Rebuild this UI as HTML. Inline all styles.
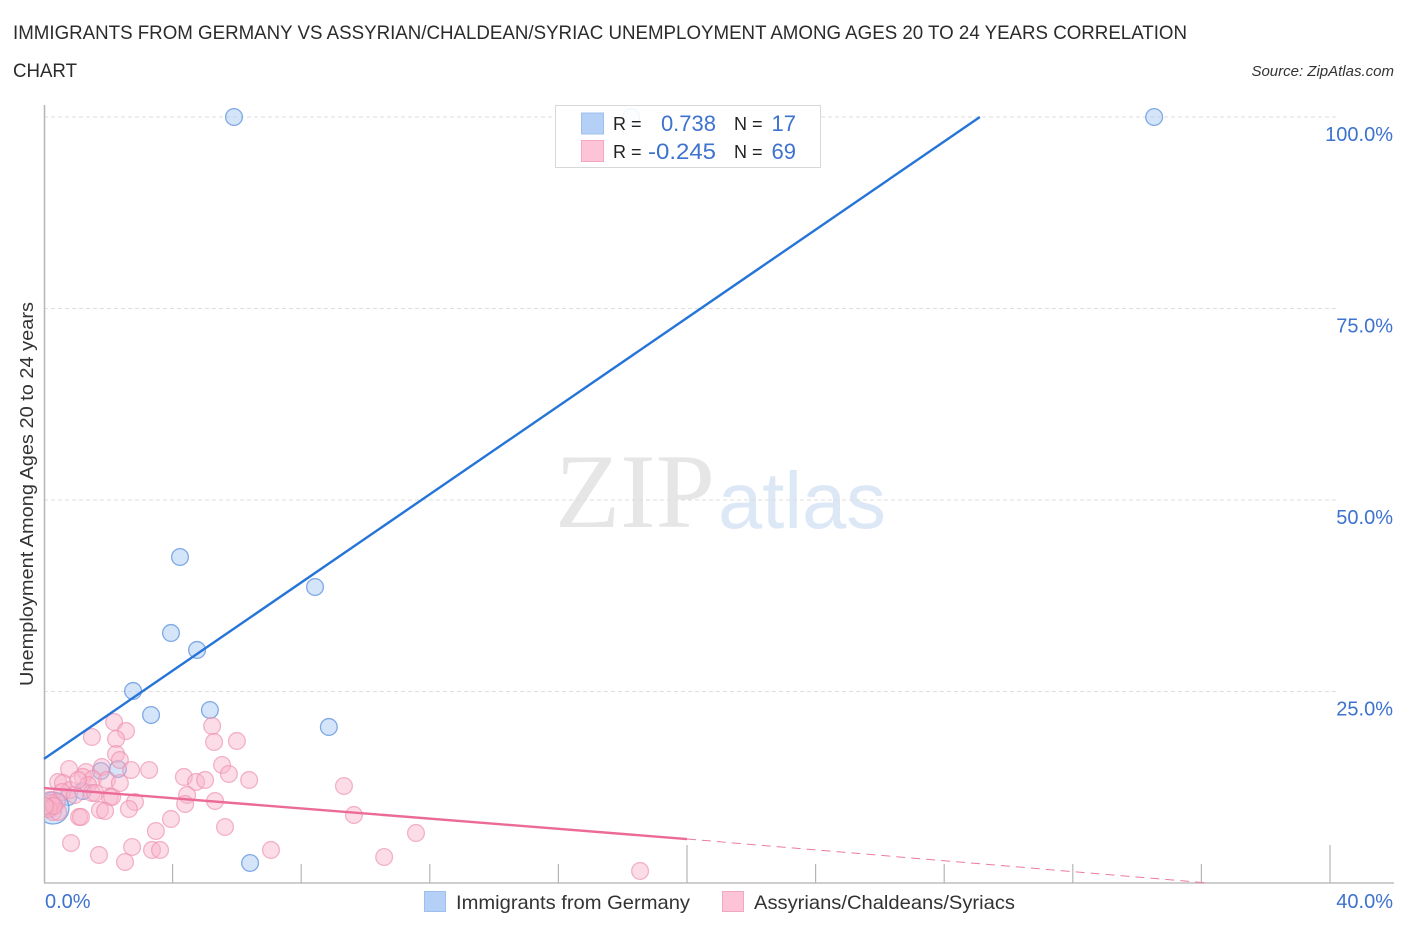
<!DOCTYPE html>
<html>
<head>
<meta charset="utf-8">
<title>Immigrants from Germany vs Assyrian/Chaldean/Syriac Unemployment Correlation Chart</title>
<style>
html,body{margin:0;padding:0;background:#fff;}
svg{display:block;font-family:"Liberation Sans",sans-serif;}
</style>
</head>
<body>
<svg id="chart" xmlns="http://www.w3.org/2000/svg" width="1406" height="930" viewBox="0 0 1406 930">
  <defs>
    <clipPath id="plot-clip"><rect x="45" y="100" width="1350" height="783"/></clipPath>
  </defs>
  <text x="13" y="39" font-size="19" fill="#2b2b2b" textLength="1174" lengthAdjust="spacingAndGlyphs">IMMIGRANTS FROM GERMANY VS ASSYRIAN/CHALDEAN/SYRIAC UNEMPLOYMENT AMONG AGES 20 TO 24 YEARS CORRELATION</text>
  <text x="13" y="77" font-size="19" fill="#2b2b2b" textLength="64" lengthAdjust="spacingAndGlyphs">CHART</text>
  <text x="1394" y="76" font-size="15" font-style="italic" fill="#333" text-anchor="end">Source: ZipAtlas.com</text>
  <g id="watermark">
    <text x="555" y="527" font-family="'Liberation Serif',serif" font-size="106" fill="#e6e6e6" textLength="160" lengthAdjust="spacingAndGlyphs">ZIP</text>
    <text x="718" y="528" font-size="80" fill="#dde8f7" textLength="168" lengthAdjust="spacingAndGlyphs">atlas</text>
  </g>
  <g id="grid"></g>
  <g id="axes"></g>
  <g id="blue-points" clip-path="url(#plot-clip)"></g>
  <g id="pink-points" clip-path="url(#plot-clip)"></g>
  <g id="trends"></g>
  <text transform="translate(33,494) rotate(-90)" font-size="18.5" fill="#333" text-anchor="middle" textLength="384" lengthAdjust="spacingAndGlyphs">Unemployment Among Ages 20 to 24 years</text>
  <g>
    <rect x="555.5" y="105.5" width="265" height="62" fill="#fff" fill-opacity="0.9" stroke="#d8d8d8"/>
    <rect x="581.5" y="113" width="22" height="21" fill="#b5d0f7" stroke="#9cbfee"/>
    <rect x="581.5" y="140.5" width="22" height="21" fill="#fcc4d6" stroke="#f2a8c0"/>
    <text x="613" y="130" font-size="18" fill="#222">R =</text>
    <text x="716" y="131" font-size="22" fill="#3d72cf" text-anchor="end">0.738</text>
    <text x="734" y="130" font-size="18" fill="#222">N =</text>
    <text x="796" y="131" font-size="22" fill="#3d72cf" text-anchor="end">17</text>
    <text x="613" y="158" font-size="18" fill="#222">R =</text>
    <text x="716" y="159" font-size="22" fill="#3d72cf" text-anchor="end" textLength="68" lengthAdjust="spacingAndGlyphs">-0.245</text>
    <text x="734" y="158" font-size="18" fill="#222">N =</text>
    <text x="796" y="159" font-size="22" fill="#3d72cf" text-anchor="end">69</text>
  </g>
  <g>
    <rect x="424.5" y="891.5" width="21" height="20" fill="#b5d0f7" stroke="#9cbfee"/>
    <text x="456" y="909" font-size="19.5" fill="#333" textLength="234" lengthAdjust="spacingAndGlyphs">Immigrants from Germany</text>
    <rect x="722.5" y="891.5" width="21" height="20" fill="#fcc4d6" stroke="#f2a8c0"/>
    <text x="754" y="909" font-size="19.5" fill="#333" textLength="261" lengthAdjust="spacingAndGlyphs">Assyrians/Chaldeans/Syriacs</text>
  </g>
</svg>
<script>
const blueX = [5.91,18.26,34.53,4.23,8.43,3.95,4.76,2.77,3.33,5.16,8.86,1.77,2.30,6.41,1.21,0.75,0.28];
const blueY = [100,100,100,42.56,38.64,32.64,30.42,25.07,21.93,22.58,20.37,14.62,14.88,2.61,12.01,11.23,9.79];
const blueSize = [1,1,1,1,1,1,1,1,1,1,1,1,1,1,1,1,1.9];
const pinkX = [2.18,2.55,1.49,2.24,2.24,2.36,1.80,2.71,3.27,0.78,1.31,0.44,0.59,1.21,1.52,1.96,1.37,0.81,0.56,0.96,1.49,1.59,2.05,2.12,2.83,2.64,1.74,1.90,1.09,1.15,0.19,0.28,0.28,0.12,0.40,0.44,0.84,1.71,2.74,2.52,3.36,3.61,3.48,3.95,4.35,4.73,5.01,4.45,4.39,5.32,5.23,5.29,6.00,5.54,5.75,6.38,5.63,9.33,9.64,11.57,10.58,7.06,18.54,1.06,0.22,2.36,0.15,0.31,0.03];
const pinkY = [21.02,19.84,19.06,18.80,16.84,16.06,15.14,14.75,14.75,14.88,14.49,13.19,13.05,13.84,13.58,13.45,12.79,12.14,11.88,11.49,11.75,11.75,11.23,11.23,10.57,9.66,9.53,9.40,8.62,8.62,10.84,10.18,9.27,9.92,10.57,9.27,5.22,3.66,4.70,2.74,4.31,4.31,6.79,8.36,13.84,13.19,13.45,11.49,10.31,10.70,20.50,18.41,18.54,15.40,14.23,13.45,7.31,12.66,8.88,6.53,3.39,4.31,1.57,13.45,10.45,13.05,9.66,10.05,10.05];
const blueTrendX = [0,29.11];
const blueTrendY = [16.2,100];
const pinkTrendX = [0,20];
const pinkTrendY = [12.4,5.74];
const pinkDashX = [20,36.2];
const pinkDashY = [5.74,0];
const yTicks = [25,50,75,100];
const yTickLabels = ["25.0%","50.0%","75.0%","100.0%"];
const xTicks = [4,8,12,16,20,24,28,32,36,40];
const xEndLabels = ["0.0%","40.0%"];

const NS = "http://www.w3.org/2000/svg";
function xScale(v){return 44 + v * 32.15;}
function yScale(v){return 883 - v * 7.66;}
function make(tag, attrs, parent){
  const el = document.createElementNS(NS, tag);
  for (const k in attrs) el.setAttribute(k, attrs[k]);
  parent.appendChild(el);
  return el;
}
const gridG = document.getElementById('grid');
const axesG = document.getElementById('axes');
const blueG = document.getElementById('blue-points');
const pinkG = document.getElementById('pink-points');
const trendG = document.getElementById('trends');

yTicks.forEach(function(t, i){
  const line = make('line', {x1:44, x2:1336, y1:yScale(t), y2:yScale(t), stroke:'#dedede', 'stroke-width':1, 'stroke-dasharray':'4 3'}, gridG);
  
  
  const label = make('text', {x:1393, y:yScale(t) + 24, 'font-size':20, fill:'#3d72cf', 'text-anchor':'end'}, axesG);
  label.textContent = yTickLabels[i];
  
  
});

const yAxis = make('line', {x1:44.5, x2:44.5, y1:105, y2:883, stroke:'#b5b5b5', 'stroke-width':1.5}, axesG);


const xAxis = make('line', {x1:44, x2:1394, y1:883, y2:883, stroke:'#bdbdbd', 'stroke-width':1.5}, axesG);



xTicks.forEach(function(t){
  const top = (t % 20 === 0) ? 845 : 864;
  const tick = make('line', {x1:xScale(t), x2:xScale(t), y1:top, y2:883, stroke:'#b5b5b5', 'stroke-width':1.2}, axesG);
  
  
});

const xStart = make('text', {x:45, y:908, 'font-size':20, fill:'#3d72cf'}, axesG);
xStart.textContent = xEndLabels[0];


const xEnd = make('text', {x:1393, y:908, 'font-size':20, fill:'#3d72cf', 'text-anchor':'end'}, axesG);
xEnd.textContent = xEndLabels[1];



blueX.forEach(function(v, i){
  const c = make('circle', {cx:xScale(v), cy:yScale(blueY[i]), r:8.4 * blueSize[i], fill:'#a9c9f3', 'fill-opacity':0.5, stroke:'#5a90de', 'stroke-opacity':0.75, 'stroke-width':1.3}, blueG);
  
  
});
pinkX.forEach(function(v, i){
  const c = make('circle', {cx:xScale(v), cy:yScale(pinkY[i]), r:8.4, fill:'#f9b4ca', 'fill-opacity':0.45, stroke:'#ec8fae', 'stroke-opacity':0.65, 'stroke-width':1.3}, pinkG);
  
  
});

const blueLine = make('line', {x1:xScale(blueTrendX[0]), y1:yScale(blueTrendY[0]), x2:xScale(blueTrendX[1]), y2:yScale(blueTrendY[1]), stroke:'#2574d8', 'stroke-width':2.4}, trendG);


const pinkLine = make('line', {x1:xScale(pinkTrendX[0]), y1:yScale(pinkTrendY[0]), x2:xScale(pinkTrendX[1]), y2:yScale(pinkTrendY[1]), stroke:'#ec6a98', 'stroke-width':2.4}, trendG);


const pinkDash = make('line', {x1:xScale(pinkDashX[0]), y1:yScale(pinkDashY[0]), x2:xScale(pinkDashX[1]), y2:yScale(pinkDashY[1]), stroke:'#ec7aa2', 'stroke-width':1, 'stroke-dasharray':'9 6'}, trendG);


</script>
</body>
</html>
